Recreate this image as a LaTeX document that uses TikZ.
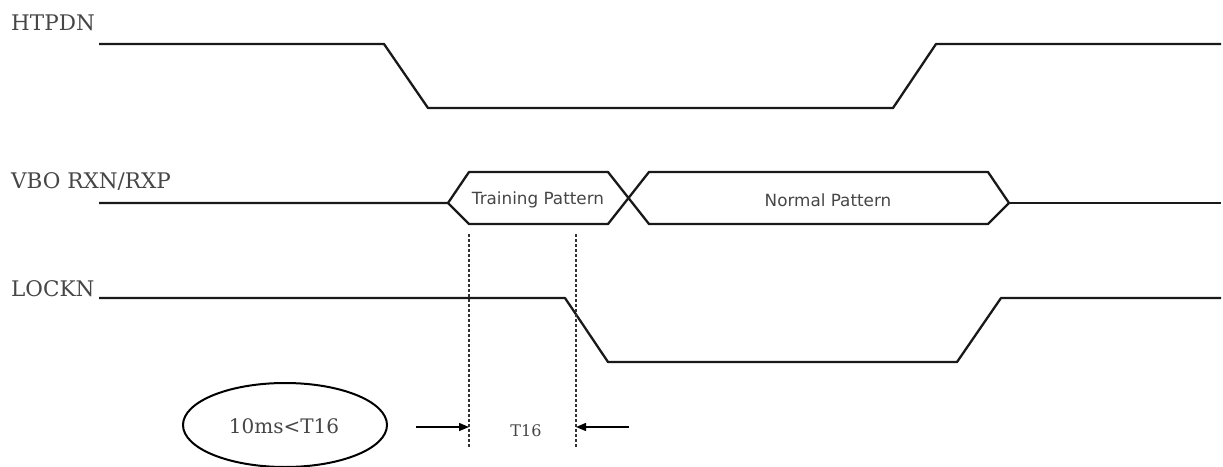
\documentclass[tikz,border=0pt]{standalone}
\usepackage{fontspec}
\setmainfont{DejaVu Serif}
\newfontfamily\sansfnt{DejaVu Sans}
\usetikzlibrary{arrows.meta,shapes.geometric}
\definecolor{txtgray}{RGB}{70,70,70}
\begin{document}
\begin{tikzpicture}[x=1pt,y=-1pt,
  wave/.style={line width=2.3pt,line join=round,draw=black!90},
  siglabel/.style={anchor=base west,inner sep=0pt,text=txtgray,font=\fontsize{21.5}{24}\selectfont},
  patlabel/.style={inner sep=0pt,text=txtgray,font=\sansfnt\fontsize{16.8}{19}\selectfont},
  guide/.style={line width=1.3pt,draw=black!80,dash pattern=on 3pt off 2pt},
  meas/.style={line width=1.3pt,-{Triangle[length=10pt,width=8pt]}}]
\useasboundingbox (0,0) rectangle (1223,466);

% labels
\node[siglabel] (lh) at (11,30) {HTPDN};
\node[siglabel] (lv) at (11,188) {VBO RXN/RXP};
\node[siglabel] (ll) at (11,296) {LOCKN};

% HTPDN waveform
\coordinate (h0) at (99,44);
\coordinate (h1) at (384,44);
\coordinate (h2) at (428,108);
\coordinate (h3) at (893,108);
\coordinate (h4) at (936,44);
\coordinate (h5) at (1221,44);
\draw[wave] (h0) -- (h1) -- (h2) -- (h3) -- (h4) -- (h5);

% VBO RXN/RXP waveform
\coordinate (v0) at (99,203);
\coordinate (v1) at (448,203);
\coordinate (tTL) at (469,172);
\coordinate (tBL) at (469,224);
\coordinate (tTR) at (608,172);
\coordinate (tBR) at (608,224);
\coordinate (nTL) at (649,172);
\coordinate (nBL) at (649,224);
\coordinate (nTR) at (988,172);
\coordinate (nBR) at (988,224);
\coordinate (v2) at (1009,203);
\coordinate (v3) at (1221,203);
\draw[wave] (v0) -- (v1) -- (tTL) -- (tTR) -- (nBL) -- (nBR) -- (v2) -- (nTR) -- (nTL) -- (tBR) -- (tBL) -- (v1);
\draw[wave] (v2) -- (v3);
\node[patlabel] (tp) at (538,200) {Training Pattern};
\node[patlabel] (np) at (828,200) {Normal Pattern};

% LOCKN waveform
\coordinate (l0) at (99,298);
\coordinate (l1) at (565,298);
\coordinate (l2) at (608,362);
\coordinate (l3) at (957,362);
\coordinate (l4) at (1001,298);
\coordinate (l5) at (1221,298);
\draw[wave] (l0) -- (l1) -- (l2) -- (l3) -- (l4) -- (l5);

% guides
\coordinate (g1a) at (469,234);
\coordinate (g1b) at (469,447);
\coordinate (g2a) at (576,234);
\coordinate (g2b) at (576,447);
\draw[guide] (g1a) -- (g1b);
\draw[guide] (g2a) -- (g2b);

% measurement arrows
\coordinate (a1s) at (416,427);
\coordinate (a1e) at (469,427);
\coordinate (a2s) at (629,427);
\coordinate (a2e) at (576,427);
\draw[meas] (a1s) -- (a1e);
\draw[meas] (a2s) -- (a2e);
\node[anchor=base,inner sep=0pt,text=txtgray,font=\fontsize{16}{18}\selectfont] (t16) at (526,436) {T16};

% ellipse note
\node[draw,ellipse,line width=2pt,minimum width=204pt,minimum height=84pt,inner sep=0pt] (note) at (285,425) {};
\node[anchor=base,inner sep=0pt,text=txtgray,font=\fontsize{20}{22}\selectfont] (notetxt) at (284,433) {10ms<T16};
\end{tikzpicture}
\end{document}
